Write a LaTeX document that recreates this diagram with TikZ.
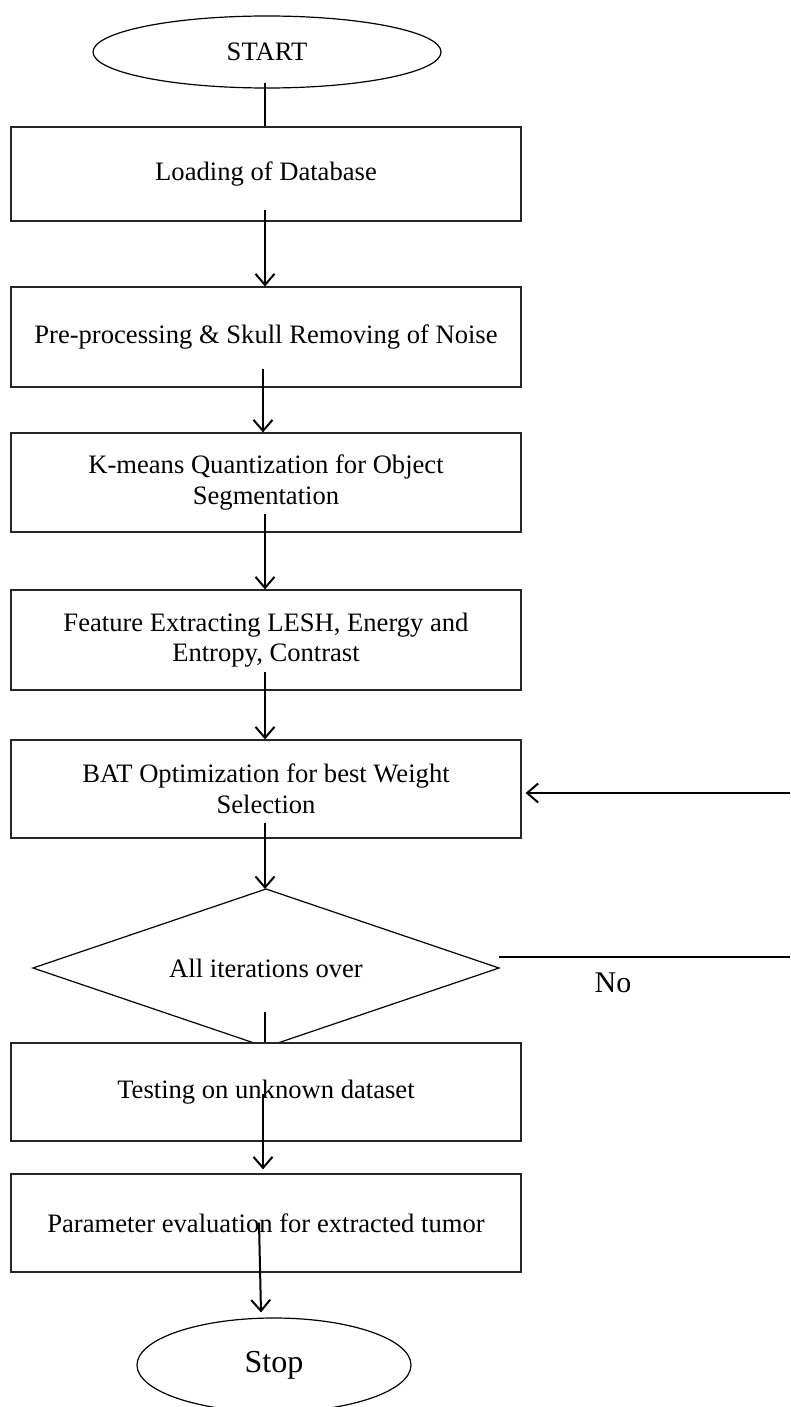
\documentclass[tikz,border=0pt]{standalone}
\usepackage{fontspec}
\setmainfont{Liberation Serif}
\usetikzlibrary{shapes.geometric,arrows.meta}
\tikzset{
  boxnode/.style={draw=black!85, line width=1.2pt, fill=white, minimum width=510pt, inner sep=0pt, align=center, font=\fontsize{26.6}{30.6}\selectfont},
  term/.style={draw=black, line width=1.2pt, ellipse, inner sep=0pt, fill=white},
  decis/.style={draw=black, line width=1.2pt},
  arr/.style={line width=2pt, -{Straight Barb[length=11pt,width=19pt,line width=2pt]}},
  ln/.style={line width=2pt}
}
\begin{document}
\begin{tikzpicture}[x=1pt,y=-1pt]
\useasboundingbox (0,0) rectangle (790,1407);
\begin{scope}
\clip (0,0) rectangle (790,1407);
\node[term, minimum width=348pt, minimum height=72pt, font=\fontsize{26.6}{30.6}\selectfont] (start) at (267,52) {START};
\node[boxnode, minimum height=94pt] (b1) at (266,174) {Loading of Database};
\node[boxnode, minimum height=100pt] (b2) at (266,337) {Pre-processing \& Skull Removing of Noise};
\node[boxnode, minimum height=99pt] (b3) at (266,482.5) {K-means Quantization for Object\\Segmentation};
\node[boxnode, minimum height=100pt] (b4) at (266,640) {Feature Extracting LESH, Energy and\\Entropy, Contrast};
\node[boxnode, minimum height=98pt] (b5) at (266,789) {BAT Optimization for best Weight\\Selection};
% decision diamond
\coordinate (dT) at (266,889);
\coordinate (dL) at (33,968);
\coordinate (dR) at (499,968);
\coordinate (dB) at (266,1047);
\draw[decis] (dT) -- (dR) -- (dB) -- (dL) -- cycle;
\node[inner sep=0pt, font=\fontsize{26.6}{30.6}\selectfont] (dia) at (266,968) {All iterations over};
\node[boxnode, minimum height=98pt] (b6) at (266,1092) {Testing on unknown dataset};
\node[boxnode, minimum height=98pt] (b7) at (266,1223) {Parameter evaluation for extracted tumor};
\node[term, minimum width=274pt, minimum height=94pt, font=\fontsize{32}{36}\selectfont] (stop) at (274,1365) {Stop};
\node[font=\fontsize{30}{34}\selectfont, inner sep=0pt] (nolbl) at (613,983) {No};
\coordinate (fbR) at (790,793);
\coordinate (noR) at (790,957);

\draw[ln] ([xshift=-2pt,yshift=6pt]start.south) -- ([xshift=-1pt]b1.north);
\draw[arr] ([xshift=-1pt,yshift=12pt]b1.south) -- ([xshift=-1pt]b2.north);
\draw[arr] ([xshift=-3pt,yshift=19pt]b2.south) -- ([xshift=-3pt]b3.north);
\draw[arr] ([xshift=-1pt,yshift=19pt]b3.south) -- ([xshift=-1pt]b4.north);
\draw[arr] ([xshift=-1pt,yshift=19pt]b4.south) -- ([xshift=-1pt]b5.north);
\draw[arr] ([xshift=-1pt,yshift=16pt]b5.south) -- ([xshift=-1pt]dT);
\draw[ln] ([xshift=-1pt,yshift=35pt]dB) -- ([xshift=-1pt]b6.north);
\draw[arr] ([xshift=-3pt,yshift=48pt]b6.south) -- ([xshift=-3pt,yshift=4pt]b7.north);
\draw[arr] ([xshift=-7pt,yshift=50pt]b7.south) -- ([xshift=-13pt,yshift=5pt]stop.north);
\draw[arr] (fbR) -- ([xshift=4pt,yshift=-4pt]b5.east);
\draw[ln] ([yshift=11pt]dR) -- (noR);
\end{scope}
\end{tikzpicture}
\end{document}
